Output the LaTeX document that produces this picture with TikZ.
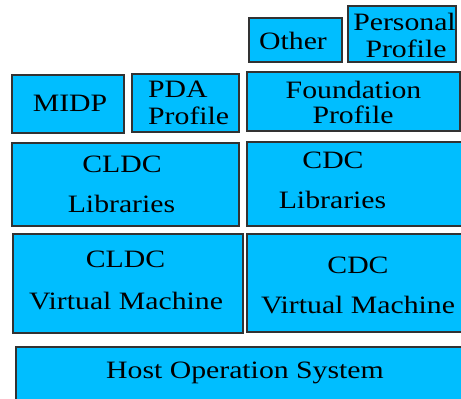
\documentclass[tikz,border=0pt]{standalone}
\usepackage{fontspec}
\newfontfamily\layerfont[FakeStretch=1.19]{Liberation Serif}
\definecolor{layerfill}{RGB}{0,190,255}
\definecolor{layerdraw}{RGB}{50,50,50}
\begin{document}
\begin{tikzpicture}[x=1pt,y=-1pt,
  layer/.style={draw=layerdraw,fill=layerfill,line width=1.2pt,anchor=north west,inner sep=0pt,outer sep=0pt},
  lbl/.style={font=\layerfont\fontsize{25}{29}\selectfont,inner sep=0pt,anchor=base,text=black}]
\useasboundingbox (0,0) rectangle (461,399);
\clip (0,0) rectangle (461,399);
% boxes
\node[layer,minimum width=93pt,minimum height=44pt] (other) at (249,18) {};
\node[layer,minimum width=108pt,minimum height=56pt] (personal) at (348,6) {};
\node[layer,minimum width=213pt,minimum height=59pt] (foundation) at (247,72) {};
\node[layer,minimum width=112pt,minimum height=58pt] (midp) at (12,75) {};
\node[layer,minimum width=107pt,minimum height=58pt] (pda) at (132,74) {};
\node[layer,minimum width=227pt,minimum height=83pt] (cldclib) at (12,143) {};
\node[layer,minimum width=223pt,minimum height=84pt] (cdclib) at (247,142) {};
\node[layer,minimum width=230pt,minimum height=99pt] (cldcvm) at (13,234) {};
\node[layer,minimum width=223pt,minimum height=98pt] (cdcvm) at (247,234) {};
\node[layer,minimum width=454pt,minimum height=63pt] (host) at (16,347) {};
% labels
\node[lbl] (tother) at (293,49) {Other};
\node[lbl] (tpers1) at (404.5,30) {Personal};
\node[lbl] (tpers2) at (406,57) {Profile};
\node[lbl] (tfound1) at (353.5,98) {Foundation};
\node[lbl] (tfound2) at (353,123) {Profile};
\node[lbl] (tmidp) at (70,111) {MIDP};
\node[lbl,anchor=base west] (tpda1) at (148,97) {PDA};
\node[lbl,anchor=base west] (tpda2) at (148,124) {Profile};
\node[lbl] (tcldclib1) at (122,172) {CLDC};
\node[lbl] (tcldclib2) at (121.5,212) {Libraries};
\node[lbl] (tcdclib1) at (333,168) {CDC};
\node[lbl] (tcdclib2) at (332.5,208) {Libraries};
\node[lbl] (tcldcvm1) at (125.5,267) {CLDC};
\node[lbl] (tcldcvm2) at (126,309) {Virtual Machine};
\node[lbl] (tcdcvm1) at (358,273) {CDC};
\node[lbl] (tcdcvm2) at (358,313) {Virtual Machine};
\node[lbl] (thost) at (245,378) {Host Operation System};
\end{tikzpicture}
\end{document}
